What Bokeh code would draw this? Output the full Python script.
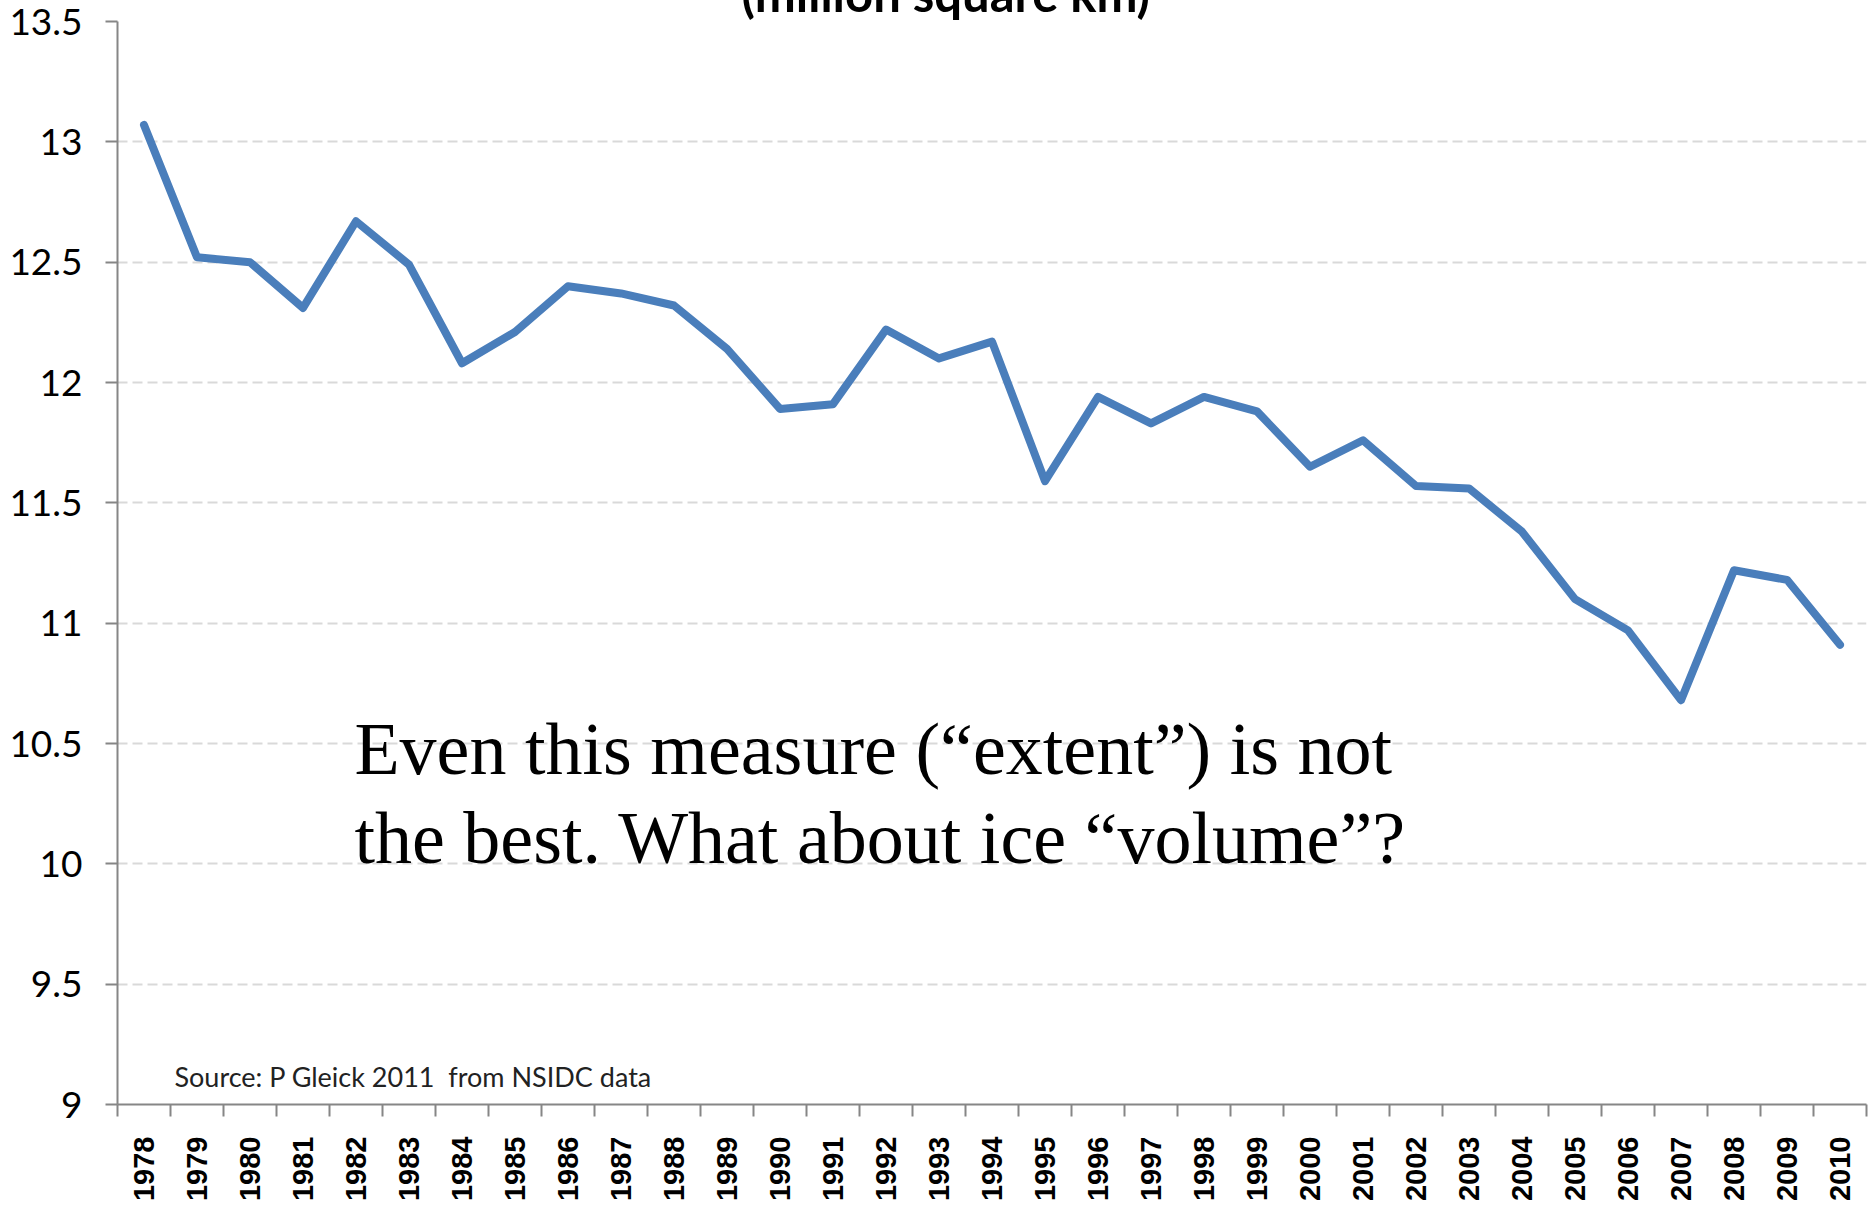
import math
from bokeh.plotting import figure
from bokeh.models import (Range1d, FixedTicker, CustomJSTickFormatter, NumeralTickFormatter, Label)
from bokeh.embed import file_html
from bokeh.resources import INLINE

years = [str(y) for y in range(1978, 2011)]
extent = [13.07, 12.52, 12.50, 12.31, 12.67, 12.49, 12.08, 12.21, 12.40, 12.37,
          12.32, 12.14, 11.89, 11.91, 12.22, 12.10, 12.17, 11.59, 11.94, 11.83,
          11.94, 11.88, 11.65, 11.76, 11.57, 11.56, 11.38, 11.10, 10.97, 10.68,
          11.22, 11.18, 10.91]
y_ticks = [9, 9.5, 10, 10.5, 11, 11.5, 12, 12.5, 13, 13.5]
title_text = "(million square km)"
source_text = "Source: P Gleick 2011\u00a0\u00a0from NSIDC data"
note_lines = ["Even this measure (\u201cextent\u201d) is not",
              "the best. What about ice \u201cvolume\u201d?"]

n = len(years)
xs = [i + 0.5 for i in range(n)]

SHIFT = 40  # figure is pulled up so the title is cut off at the page top, like the reference

p = figure(width=1868, height=1205 + SHIFT, output_backend="svg", toolbar_location=None,
           x_range=Range1d(0, n), y_range=Range1d(y_ticks[0], y_ticks[-1]),
           min_border_left=117, min_border_right=2, min_border_top=21 + SHIFT,
           min_border_bottom=101, title=title_text)
p.styles = {"margin-top": f"-{SHIFT}px"}
p.outline_line_color = None
p.background_fill_color = "white"
p.border_fill_color = "white"

p.title.align = "left"
p.title.offset = 624
p.title.standoff = 0
p.title.text_font = "Lato"
p.title.text_font_style = "bold"
p.title.text_font_size = "49px"
p.title.text_color = "#000000"

p.line(xs, extent, line_color="#4a7ebb", line_width=8, line_join="round", line_cap="round")

# grid
p.xgrid.visible = False
p.ygrid.grid_line_color = "#d9d9d9"
p.ygrid.grid_line_width = 2
p.ygrid.grid_line_dash = "10 5"

# y axis
ya = p.yaxis[0]
ya.ticker = FixedTicker(ticks=y_ticks)
ya.formatter = NumeralTickFormatter(format="0.[0]")
ya.axis_line_color = "#868686"
ya.axis_line_width = 2
ya.major_tick_line_color = "#868686"
ya.major_tick_line_width = 2
ya.major_tick_out = 12
ya.major_tick_in = 0
ya.minor_tick_line_color = None
ya.major_label_standoff = 23
ya.major_label_text_font = "Lato"
ya.major_label_text_font_size = "37px"
ya.major_label_text_color = "#000000"

# x axis
xa = p.xaxis[0]
xa.ticker = FixedTicker(ticks=xs, minor_ticks=list(range(n + 1)))
xa.formatter = CustomJSTickFormatter(args=dict(years=years),
                                     code="return years[Math.floor(tick)];")
xa.axis_line_color = "#868686"
xa.axis_line_width = 2
xa.major_tick_out = 0
xa.major_tick_in = 0
xa.major_tick_line_color = None
xa.minor_tick_line_color = "#868686"
xa.minor_tick_line_width = 2
xa.minor_tick_out = 12
xa.minor_tick_in = 0
xa.major_label_orientation = math.pi / 2
xa.major_label_standoff = 20
xa.major_label_text_font = "Liberation Sans"
xa.major_label_text_font_style = "bold"
xa.major_label_text_font_size = "29px"
xa.major_label_text_color = "#000000"

# source
p.add_layout(Label(x=1.075, y=9.116, text=source_text, text_font="Lato",
                   text_font_size="27px", text_baseline="alphabetic", text_color="#222222"))

# note
p.add_layout(Label(x=4.47, y=10.478, text=note_lines[0], text_font="Liberation Serif",
                   text_font_size="74px", text_baseline="alphabetic", text_color="#000000"))
p.add_layout(Label(x=4.47, y=10.108, text=note_lines[1], text_font="Liberation Serif",
                   text_font_size="74px", text_baseline="alphabetic", text_color="#000000"))

open("out.html", "w").write(file_html(p, INLINE))
